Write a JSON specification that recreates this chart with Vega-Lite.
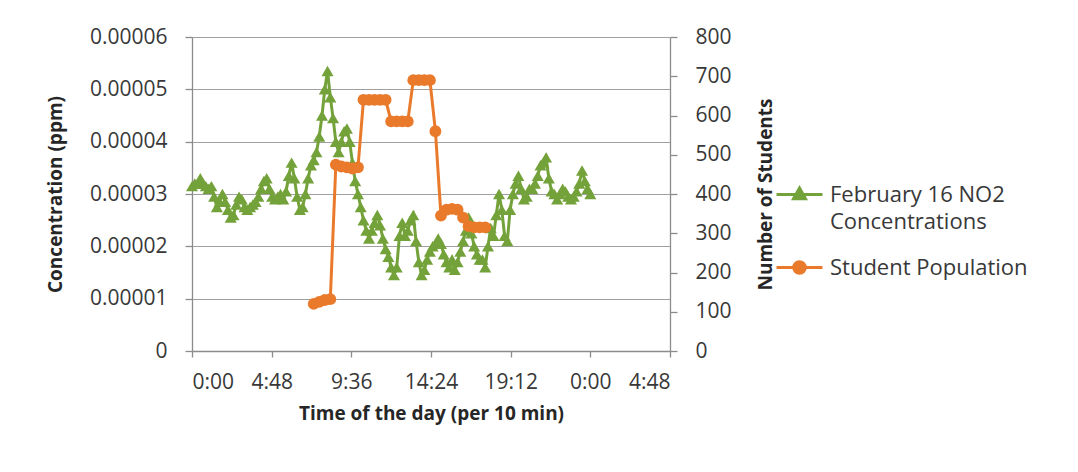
{
  "$schema": "https://vega.github.io/schema/vega-lite/v6.json",
  "width": 478,
  "height": 314,
  "autosize": {"type": "none"},
  "padding": {"left": 192, "top": 37, "right": 408, "bottom": 121},
  "background": "white",
  "config": {
    "font": "Open Sans",
    "view": {"stroke": null},
    "axis": {
      "labelFont": "Open Sans",
      "labelFontSize": 21,
      "labelColor": "#383838",
      "titleFont": "Open Sans",
      "titleFontSize": 19,
      "titleFontWeight": "bold",
      "titleColor": "#262626",
      "domainColor": "#8c8c8c",
      "tickColor": "#8c8c8c",
      "gridColor": "#a0a0a0",
      "domainWidth": 1.3,
      "tickWidth": 1.3,
      "gridWidth": 1.2
    }
  },
  "datasets": {
    "no2": [
      {"minute": 0, "ppm": 0.0000315}, {"minute": 10, "ppm": 0.000032}, {"minute": 20, "ppm": 0.000032}, {"minute": 30, "ppm": 0.000033},
      {"minute": 40, "ppm": 0.000032}, {"minute": 50, "ppm": 0.0000315}, {"minute": 60, "ppm": 0.000031}, {"minute": 70, "ppm": 0.0000315},
      {"minute": 80, "ppm": 0.0000295}, {"minute": 90, "ppm": 0.0000275}, {"minute": 100, "ppm": 0.0000285}, {"minute": 110, "ppm": 0.00003},
      {"minute": 120, "ppm": 0.0000285}, {"minute": 130, "ppm": 0.000027}, {"minute": 140, "ppm": 0.0000255}, {"minute": 150, "ppm": 0.000026},
      {"minute": 160, "ppm": 0.000028}, {"minute": 170, "ppm": 0.0000295}, {"minute": 180, "ppm": 0.000029}, {"minute": 190, "ppm": 0.0000275},
      {"minute": 200, "ppm": 0.000027}, {"minute": 210, "ppm": 0.0000275}, {"minute": 220, "ppm": 0.000028}, {"minute": 230, "ppm": 0.0000285},
      {"minute": 240, "ppm": 0.0000295}, {"minute": 250, "ppm": 0.000031}, {"minute": 260, "ppm": 0.0000325}, {"minute": 270, "ppm": 0.000033},
      {"minute": 280, "ppm": 0.000031}, {"minute": 290, "ppm": 0.0000295}, {"minute": 300, "ppm": 0.000029}, {"minute": 310, "ppm": 0.0000295},
      {"minute": 320, "ppm": 0.00003}, {"minute": 330, "ppm": 0.000029}, {"minute": 340, "ppm": 0.0000305}, {"minute": 350, "ppm": 0.0000335},
      {"minute": 360, "ppm": 0.000036}, {"minute": 370, "ppm": 0.000033}, {"minute": 380, "ppm": 0.0000295}, {"minute": 390, "ppm": 0.000027},
      {"minute": 400, "ppm": 0.0000275}, {"minute": 410, "ppm": 0.00003}, {"minute": 420, "ppm": 0.000033}, {"minute": 430, "ppm": 0.0000355},
      {"minute": 440, "ppm": 0.0000365}, {"minute": 450, "ppm": 0.000038}, {"minute": 460, "ppm": 0.000041}, {"minute": 470, "ppm": 0.000045},
      {"minute": 480, "ppm": 0.00005}, {"minute": 490, "ppm": 0.0000535}, {"minute": 500, "ppm": 0.0000485}, {"minute": 510, "ppm": 0.0000445},
      {"minute": 520, "ppm": 0.00004}, {"minute": 530, "ppm": 0.000038}, {"minute": 540, "ppm": 0.00004}, {"minute": 550, "ppm": 0.000042},
      {"minute": 560, "ppm": 0.0000425}, {"minute": 570, "ppm": 0.00004}, {"minute": 580, "ppm": 0.000036}, {"minute": 590, "ppm": 0.0000325},
      {"minute": 600, "ppm": 0.00003}, {"minute": 610, "ppm": 0.0000275}, {"minute": 620, "ppm": 0.000025}, {"minute": 630, "ppm": 0.000023},
      {"minute": 640, "ppm": 0.0000215}, {"minute": 650, "ppm": 0.000023}, {"minute": 660, "ppm": 0.0000245}, {"minute": 670, "ppm": 0.000026},
      {"minute": 680, "ppm": 0.000024}, {"minute": 690, "ppm": 0.0000215}, {"minute": 700, "ppm": 0.0000195}, {"minute": 710, "ppm": 0.000018},
      {"minute": 720, "ppm": 0.000016}, {"minute": 730, "ppm": 0.0000145}, {"minute": 740, "ppm": 0.000016}, {"minute": 750, "ppm": 0.000022},
      {"minute": 760, "ppm": 0.0000245}, {"minute": 770, "ppm": 0.000022}, {"minute": 780, "ppm": 0.000023}, {"minute": 790, "ppm": 0.000025},
      {"minute": 800, "ppm": 0.000026}, {"minute": 810, "ppm": 0.000021}, {"minute": 820, "ppm": 0.000017}, {"minute": 830, "ppm": 0.0000145},
      {"minute": 840, "ppm": 0.0000155}, {"minute": 850, "ppm": 0.0000175}, {"minute": 860, "ppm": 0.000019}, {"minute": 870, "ppm": 0.00002},
      {"minute": 880, "ppm": 0.0000205}, {"minute": 890, "ppm": 0.0000215}, {"minute": 900, "ppm": 0.0000205}, {"minute": 910, "ppm": 0.0000185},
      {"minute": 920, "ppm": 0.000017}, {"minute": 930, "ppm": 0.000016}, {"minute": 940, "ppm": 0.0000175}, {"minute": 950, "ppm": 0.0000155},
      {"minute": 960, "ppm": 0.000017}, {"minute": 970, "ppm": 0.000019}, {"minute": 980, "ppm": 0.000021}, {"minute": 990, "ppm": 0.000023},
      {"minute": 1000, "ppm": 0.0000255}, {"minute": 1010, "ppm": 0.0000225}, {"minute": 1020, "ppm": 0.00002}, {"minute": 1030, "ppm": 0.0000185},
      {"minute": 1040, "ppm": 0.0000175}, {"minute": 1050, "ppm": 0.0000175}, {"minute": 1060, "ppm": 0.000016}, {"minute": 1070, "ppm": 0.00002},
      {"minute": 1080, "ppm": 0.0000235}, {"minute": 1090, "ppm": 0.000022}, {"minute": 1100, "ppm": 0.000026}, {"minute": 1110, "ppm": 0.00003},
      {"minute": 1120, "ppm": 0.000027}, {"minute": 1130, "ppm": 0.000022}, {"minute": 1140, "ppm": 0.000021}, {"minute": 1150, "ppm": 0.000027},
      {"minute": 1160, "ppm": 0.00003}, {"minute": 1170, "ppm": 0.000032}, {"minute": 1180, "ppm": 0.0000335}, {"minute": 1190, "ppm": 0.000031},
      {"minute": 1200, "ppm": 0.000029}, {"minute": 1210, "ppm": 0.0000295}, {"minute": 1220, "ppm": 0.000031}, {"minute": 1230, "ppm": 0.000031},
      {"minute": 1240, "ppm": 0.000032}, {"minute": 1250, "ppm": 0.0000335}, {"minute": 1260, "ppm": 0.0000355}, {"minute": 1270, "ppm": 0.000036},
      {"minute": 1280, "ppm": 0.000037}, {"minute": 1290, "ppm": 0.000033}, {"minute": 1300, "ppm": 0.0000305}, {"minute": 1310, "ppm": 0.00003},
      {"minute": 1320, "ppm": 0.000029}, {"minute": 1330, "ppm": 0.00003}, {"minute": 1340, "ppm": 0.000031}, {"minute": 1350, "ppm": 0.0000305},
      {"minute": 1360, "ppm": 0.0000295}, {"minute": 1370, "ppm": 0.000029}, {"minute": 1380, "ppm": 0.0000295}, {"minute": 1390, "ppm": 0.0000305},
      {"minute": 1400, "ppm": 0.000032}, {"minute": 1410, "ppm": 0.0000345}, {"minute": 1420, "ppm": 0.0000325}, {"minute": 1430, "ppm": 0.000031},
      {"minute": 1440, "ppm": 0.00003}
    ],
    "students": [
      {"minute": 440, "count": 120}, {"minute": 460, "count": 125}, {"minute": 480, "count": 130}, {"minute": 500, "count": 132},
      {"minute": 520, "count": 475}, {"minute": 540, "count": 470}, {"minute": 560, "count": 468}, {"minute": 580, "count": 465},
      {"minute": 600, "count": 468}, {"minute": 620, "count": 640}, {"minute": 640, "count": 640}, {"minute": 660, "count": 640},
      {"minute": 680, "count": 640}, {"minute": 700, "count": 640}, {"minute": 720, "count": 585}, {"minute": 740, "count": 585},
      {"minute": 760, "count": 585}, {"minute": 780, "count": 585}, {"minute": 800, "count": 690}, {"minute": 820, "count": 690},
      {"minute": 840, "count": 690}, {"minute": 860, "count": 690}, {"minute": 880, "count": 560}, {"minute": 900, "count": 345},
      {"minute": 920, "count": 360}, {"minute": 940, "count": 362}, {"minute": 960, "count": 360}, {"minute": 980, "count": 340},
      {"minute": 1000, "count": 318}, {"minute": 1020, "count": 315}, {"minute": 1040, "count": 315}, {"minute": 1060, "count": 315}
    ]
  },
  "encoding": {
    "x": {
      "field": "minute",
      "type": "quantitative",
      "scale": {"domain": [0, 1728], "nice": false, "zero": false},
      "axis": {
        "values": [0, 288, 576, 864, 1152, 1440, 1728],
        "labelExpr": "(floor(datum.value / 60) % 24) + ':' + (datum.value % 60 < 10 ? '0' : '') + (datum.value % 60)",
        "title": "Time of the day (per 10 min)",
        "grid": false,
        "tickSize": 6,
        "labelPadding": 14,
        "titlePadding": 12
      }
    },
    "color": {
      "scale": {
        "domain": ["February 16 NO2 Concentrations", "Student Population"],
        "range": ["#74a23a", "#ea7a2b"]
      },
      "legend": {
        "title": null,
        "orient": "none",
        "legendX": 583,
        "legendY": 133,
        "padding": 0,
        "symbolSize": 2116,
        "symbolStrokeWidth": 3,
        "labelFont": "Open Sans",
        "labelFontSize": 22,
        "labelColor": "#383838",
        "labelLimit": 400,
        "labelOffset": 6,
        "rowPadding": 10,
        "labelExpr": "datum.label == 'February 16 NO2 Concentrations' ? ['February 16 NO2', 'Concentrations'] : datum.label",
        "encode": {
          "symbols": {
            "update": {
              "shape": {"signal": "datum.value == 'Student Population' ? 'M-1,0L1,0M-0.25,0A0.25,0.25,0,1,1,0.25,0A0.25,0.25,0,1,1,-0.25,0Z' : 'M-1,0L1,0M0,-0.28L0.26,0.19L-0.26,0.19Z'"},
              "fill": {"scale": "color", "field": "value"},
              "stroke": {"scale": "color", "field": "value"},
              "strokeWidth": {"value": 3},
              "opacity": {"value": 1}
            }
          },
          "labels": {
            "update": {
              "lineHeight": {"value": 27}
            }
          }
        }
      }
    }
  },
  "layer": [
    {
      "data": {"name": "no2"},
      "encoding": {
        "y": {
          "field": "ppm",
          "type": "quantitative",
          "scale": {"domain": [0, 0.00006], "nice": false},
          "axis": {
            "orient": "left",
            "values": [0, 0.00001, 0.00002, 0.00003, 0.00004, 0.00005, 0.00006],
            "labelExpr": "datum.value == 0 ? '0' : format(datum.value, '.5f')",
            "title": "Concentration (ppm)",
            "grid": true,
            "tickSize": 7,
            "labelPadding": 18,
            "titlePadding": 24
          }
        },
        "color": {"datum": "February 16 NO2 Concentrations"}
      },
      "layer": [
        {"mark": {"type": "line", "strokeWidth": 3}},
        {"mark": {"type": "point", "shape": "triangle-up", "filled": true, "size": 145, "opacity": 1, "strokeWidth": 1}}
      ]
    },
    {
      "data": {"name": "students"},
      "encoding": {
        "y": {
          "field": "count",
          "type": "quantitative",
          "scale": {"domain": [0, 800], "nice": false},
          "axis": {
            "orient": "right",
            "values": [0, 100, 200, 300, 400, 500, 600, 700, 800],
            "title": "Number of Students",
            "titleAngle": -90,
            "grid": false,
            "tickSize": 7,
            "labelPadding": 18,
            "titlePadding": 44
          }
        },
        "color": {"datum": "Student Population"}
      },
      "layer": [
        {"mark": {"type": "line", "strokeWidth": 3}},
        {"mark": {"type": "point", "shape": "circle", "filled": true, "size": 140, "opacity": 1, "strokeWidth": 1}}
      ]
    }
  ],
  "resolve": {"scale": {"y": "independent"}}
}
